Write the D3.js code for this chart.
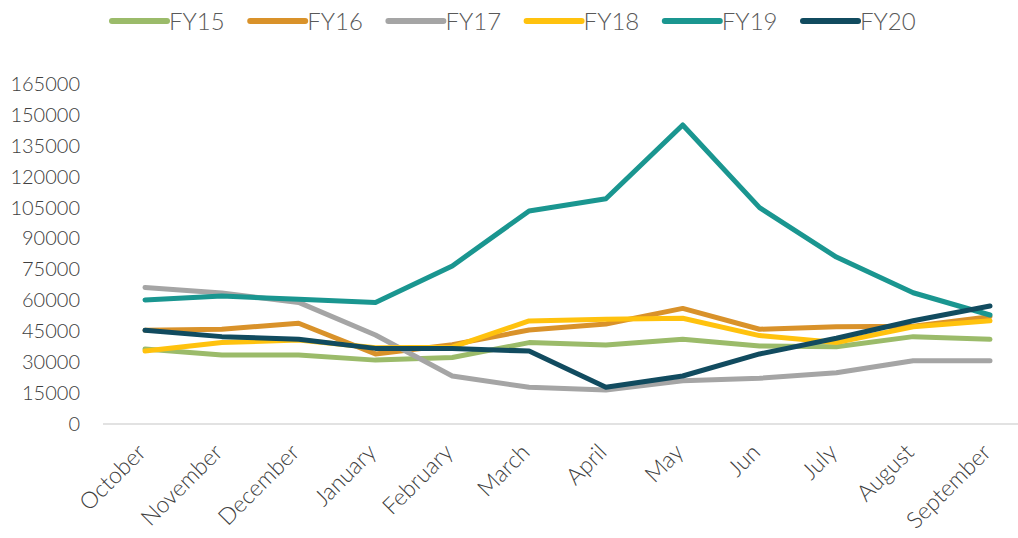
<!DOCTYPE html>
<html><head><meta charset="utf-8">
<script src="https://cdn.jsdelivr.net/npm/d3@7"></script>
<style>
html,body{margin:0;padding:0;background:#fff;}
svg{display:block;font-family:Lato,"Open Sans",sans-serif;}
svg text{font-weight:300;}
</style></head>
<body><svg id="c" width="1018" height="538"></svg>
<script>
const months = ["October","November","December","January","February","March","April","May","Jun","July","August","September"];
const seriesNames = ["FY15","FY16","FY17","FY18","FY19","FY20"];
const fy15 = [36400,33500,33500,31000,32300,39500,38300,41100,37900,37500,42400,41100];
const fy16 = [45500,46000,48900,34000,38500,45600,48500,56100,46000,47200,47400,52100];
const fy17 = [66300,63600,59000,43200,23300,17800,16500,21000,22200,24900,30700,30700];
const fy18 = [35400,39500,40800,37000,37300,50000,50800,51300,42900,39500,47200,50100];
const fy19 = [60200,62100,60500,59000,76700,103400,109300,145100,105000,81000,63700,52900];
const fy20 = [45500,42400,41100,36700,36600,35400,17800,23300,34000,41600,50100,57300];
const yTicks = [0,15000,30000,45000,60000,75000,90000,105000,120000,135000,150000,165000];
const colors = ["#9BBB6A","#D9922A","#A5A5A5","#FFC20E","#1A9690","#114B5F"];
const values = [fy15,fy16,fy17,fy18,fy19,fy20];

const svg = d3.select("#c");
const x = d3.scalePoint().domain(months).range([145,990]);
const y = d3.scaleLinear().domain([0,165000]).range([424,84]);

// baseline
svg.append("line").attr("x1",103).attr("x2",1018).attr("y1",y(0)).attr("y2",y(0))
  .attr("stroke","#d9d9d9").attr("stroke-width",1.5);

// y axis labels
const ya = svg.append("g").attr("transform","translate(80,0)")
  .call(d3.axisLeft(y).tickValues(yTicks).tickSize(0).tickPadding(0).tickFormat(d3.format("d")));
ya.select(".domain").remove();
ya.selectAll("text").attr("font-size",20).attr("fill","#404040").attr("font-family","Lato");

// x axis labels
const xa = svg.append("g").attr("transform","translate(0,"+y(0)+")")
  .call(d3.axisBottom(x).tickSize(0));
xa.select(".domain").remove();
xa.selectAll("text").attr("font-size",23).attr("fill","#404040").attr("font-family","Lato")
  .attr("text-anchor","end")
  .attr("transform","translate(-4,24) rotate(-45)")
  .attr("dy","0.35em").attr("y",0);

// lines
const line = d3.line().x((d,i)=>x(months[i])).y(d=>y(d));
values.forEach((v,k)=>{
  svg.append("path").datum(v).attr("d",line).attr("fill","none")
    .attr("stroke",colors[k]).attr("stroke-width",5)
    .attr("stroke-linejoin","round").attr("stroke-linecap","round");
});

// legend
const leg = svg.append("g");
seriesNames.forEach((n,k)=>{
  const gx = 112 + k*138.2;
  leg.append("line").attr("x1",gx).attr("x2",gx+55).attr("y1",21).attr("y2",21)
    .attr("stroke",colors[k]).attr("stroke-width",6).attr("stroke-linecap","round");
  leg.append("text").attr("x",gx+57).attr("y",21).attr("dy","0.36em")
    .attr("font-size",24).attr("fill","#595959").text(n);
});
</script></body></html>
